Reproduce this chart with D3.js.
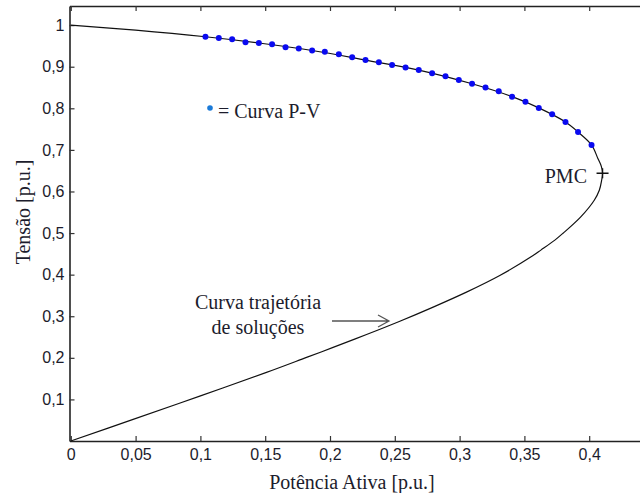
<!DOCTYPE html>
<html>
<head>
<meta charset="utf-8">
<script src="https://cdn.jsdelivr.net/npm/d3@7"></script>
<style>
  body { margin: 0; background: #fff; }
  svg { display: block; }
  .tick text { font-family: "Liberation Sans", Arial, sans-serif; font-size: 16px; fill: #1c1c2c; }
  .serif { font-family: "Liberation Serif", "Times New Roman", serif; font-size: 20px; fill: #1c1c2c; }
</style>
</head>
<body>
<svg width="640" height="493"></svg>
<script>
// trajectory of solutions (black curve)
var curveP = [0, 0.05, 0.1039, 0.1451, 0.1862, 0.2274, 0.2685, 0.3096, 0.3405, 0.3611, 0.3817, 0.3914, 0.4018,
              0.4066, 0.4093, 0.4103, 0.4096, 0.4078, 0.4039, 0.3935, 0.3796, 0.3735, 0.3627, 0.3567,
              0.331, 0.3053, 0.2796, 0.2539, 0.2282, 0.2024, 0.1819, 0.151, 0.0995, 0.0481, 0];
var curveV = [1.0, 0.988, 0.972, 0.957, 0.939, 0.916, 0.892, 0.859, 0.828, 0.801, 0.767, 0.743, 0.712,
              0.680, 0.661, 0.644, 0.627, 0.603, 0.579, 0.539, 0.499, 0.483, 0.459, 0.446,
              0.398, 0.358, 0.322, 0.288, 0.256, 0.225, 0.201, 0.165, 0.108, 0.052, 0];

// P-V curve points (blue dots)
var dotP = [0.1039, 0.1142, 0.1245, 0.1348, 0.1451, 0.1553, 0.1657, 0.1759, 0.1862, 0.196,
            0.2068, 0.2171, 0.2274, 0.2377, 0.2479, 0.2583, 0.2685, 0.2788, 0.2891, 0.2994,
            0.3096, 0.32, 0.3302, 0.3405, 0.3508, 0.3611, 0.3714, 0.3817, 0.3914, 0.4018];
var dotV = [0.972, 0.969, 0.966, 0.959, 0.957, 0.954, 0.947, 0.944, 0.939, 0.936,
            0.930, 0.923, 0.916, 0.911, 0.904, 0.898, 0.892, 0.884, 0.877, 0.868,
            0.859, 0.850, 0.841, 0.828, 0.816, 0.801, 0.786, 0.767, 0.743, 0.712];

var pmc = [0.4103, 0.644];

var xTicks = [0, 0.05, 0.1, 0.15, 0.2, 0.25, 0.3, 0.35, 0.4];
var yTicks = [0.1, 0.2, 0.3, 0.4, 0.5, 0.6, 0.7, 0.8, 0.9, 1];

var svg = d3.select("svg");

var x = d3.scaleLinear().domain([-0.001, 0.45]).range([69.5, 654]);
var y = d3.scaleLinear().domain([0, 1.046]).range([441, 6]);

function comma(d) { return String(d).replace(".", ","); }

// axes
svg.append("g")
    .attr("transform", "translate(0,441)")
    .call(d3.axisBottom(x).tickValues(xTicks).tickFormat(comma).tickSizeInner(-5).tickSizeOuter(0).tickPadding(8));
svg.append("g")
    .attr("transform", "translate(0,6)")
    .call(d3.axisTop(x).tickValues(xTicks).tickFormat("").tickSizeInner(-5).tickSizeOuter(0));
svg.append("g")
    .attr("transform", "translate(69.5,0)")
    .call(d3.axisLeft(y).tickValues(yTicks).tickFormat(comma).tickSizeInner(-5).tickSizeOuter(0).tickPadding(5));

svg.selectAll(".domain").attr("stroke", "#222").attr("stroke-width", 1.6);
svg.selectAll(".tick line").attr("stroke", "#333").attr("stroke-width", 1.2);

// curve
var curve = curveP.map(function(p, i) { return [p, curveV[i]]; });
var line = d3.line()
    .x(function(d) { return x(d[0]); })
    .y(function(d) { return y(d[1]); })
    .curve(d3.curveCatmullRom.alpha(0.5));

svg.append("path")
    .datum(curve)
    .attr("fill", "none")
    .attr("stroke", "#111")
    .attr("stroke-width", 1.2)
    .attr("d", line);

// blue dots
svg.append("g").selectAll("circle")
    .data(dotP)
    .enter().append("circle")
    .attr("cx", function(d) { return x(d); })
    .attr("cy", function(d, i) { return y(dotV[i]); })
    .attr("r", 3)
    .attr("fill", "#0a0af0");

// PMC marker
svg.append("path")
    .attr("transform", "translate(" + x(pmc[0]) + "," + y(pmc[1]) + ")")
    .attr("d", "M-6,0H6M0,-5V5")
    .attr("stroke", "#111")
    .attr("stroke-width", 1.4);

svg.append("text").attr("class", "serif")
    .attr("x", 587).attr("y", 183)
    .attr("text-anchor", "end")
    .text("PMC");

// legend
svg.append("circle")
    .attr("cx", 210).attr("cy", 108)
    .attr("r", 2.8)
    .attr("fill", "#1a7ad8");
svg.append("text").attr("class", "serif")
    .attr("x", 218).attr("y", 118)
    .text("= Curva P-V");

// annotation + arrow
svg.append("text").attr("class", "serif")
    .attr("x", 258).attr("y", 309)
    .attr("text-anchor", "middle")
    .text("Curva trajetória");
svg.append("text").attr("class", "serif")
    .attr("x", 258).attr("y", 334)
    .attr("text-anchor", "middle")
    .text("de soluções");

svg.append("path")
    .attr("d", "M332,321H389M378,315L389,321L378,327")
    .attr("fill", "none")
    .attr("stroke", "#555")
    .attr("stroke-width", 1.3);

// axis titles
svg.append("text").attr("class", "serif")
    .attr("x", 352).attr("y", 489)
    .attr("text-anchor", "middle")
    .text("Potência Ativa [p.u.]");
svg.append("text").attr("class", "serif")
    .attr("transform", "translate(30,212) rotate(-90)")
    .attr("text-anchor", "middle")
    .text("Tensão [p.u.]");
</script>
</body>
</html>
